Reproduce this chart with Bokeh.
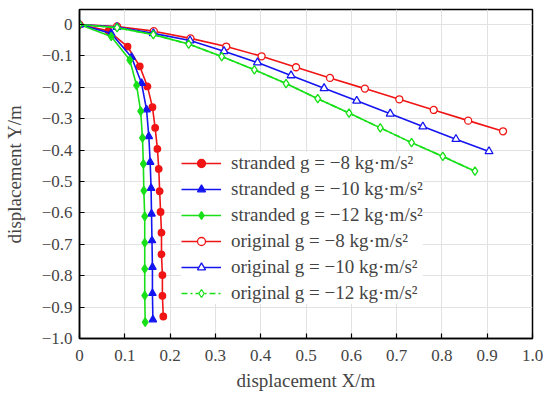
from bokeh.plotting import figure
from bokeh.models import (Range1d, FixedTicker, Legend, LegendItem, ColumnDataSource,
                          CustomJSTickFormatter)
from bokeh.embed import file_html
from bokeh.resources import INLINE

# ---- data ----
s8_x = [0, 0.064, 0.106, 0.133, 0.150, 0.161, 0.167, 0.172, 0.175, 0.177, 0.179, 0.181, 0.181, 0.183, 0.183, 0.185]
s8_y = [0, -0.020, -0.070, -0.133, -0.197, -0.263, -0.329, -0.396, -0.460, -0.531, -0.597, -0.663, -0.732, -0.798, -0.864, -0.930]
s10_x = [0, 0.070, 0.115, 0.137, 0.148, 0.153, 0.156, 0.158, 0.159, 0.160, 0.161, 0.161, 0.162]
s10_y = [0, -0.028, -0.104, -0.187, -0.271, -0.356, -0.438, -0.521, -0.603, -0.688, -0.773, -0.856, -0.940]
s12_x = [0, 0.070, 0.111, 0.126, 0.135, 0.139, 0.141, 0.142, 0.144, 0.144, 0.144, 0.144, 0.145]
s12_y = [0, -0.038, -0.113, -0.194, -0.276, -0.361, -0.444, -0.529, -0.611, -0.695, -0.778, -0.863, -0.948]

o8_x = [0, 0.083, 0.164, 0.245, 0.324, 0.402, 0.478, 0.553, 0.630, 0.706, 0.782, 0.858, 0.935]
o8_y = [0, -0.006, -0.021, -0.044, -0.070, -0.101, -0.136, -0.170, -0.204, -0.238, -0.272, -0.306, -0.340]
o10_x = [0, 0.083, 0.163, 0.244, 0.319, 0.393, 0.467, 0.540, 0.612, 0.686, 0.758, 0.831, 0.904]
o10_y = [0, -0.008, -0.028, -0.051, -0.085, -0.121, -0.162, -0.203, -0.243, -0.284, -0.325, -0.365, -0.404]
o12_x = [0, 0.083, 0.163, 0.241, 0.314, 0.386, 0.456, 0.526, 0.595, 0.664, 0.733, 0.802, 0.873]
o12_y = [0, -0.010, -0.032, -0.062, -0.102, -0.144, -0.188, -0.236, -0.282, -0.329, -0.376, -0.420, -0.467]

x_ticks = [0, 0.1, 0.2, 0.3, 0.4, 0.5, 0.6, 0.7, 0.8, 0.9, 1.0]
x_tick_labels = ["0", "0.1", "0.2", "0.3", "0.4", "0.5", "0.6", "0.7", "0.8", "0.9", "1.0"]
y_ticks = [0, -0.1, -0.2, -0.3, -0.4, -0.5, -0.6, -0.7, -0.8, -0.9, -1.0]
y_tick_labels = ["0", "\u22120.1", "\u22120.2", "\u22120.3", "\u22120.4", "\u22120.5",
                 "\u22120.6", "\u22120.7", "\u22120.8", "\u22120.9", "\u22121.0"]

labels = ["stranded g = \u22128 kg\u00b7m/s\u00b2",
          "stranded g = \u221210 kg\u00b7m/s\u00b2",
          "stranded g = \u221212 kg\u00b7m/s\u00b2",
          "original g = \u22128 kg\u00b7m/s\u00b2",
          "original g = \u221210 kg\u00b7m/s\u00b2",
          "original g = \u221212 kg\u00b7m/s\u00b2"]

RED = "#f01414"
BLUE = "#1414f0"
GREEN = "#18e018"
FONT = "Liberation Serif"

p = figure(frame_width=453, frame_height=329, output_backend="svg", toolbar_location=None,
           title=None,
           x_range=Range1d(0, 1.0), y_range=Range1d(-1.0, 0.048),
           min_border_left=79, min_border_right=11, min_border_top=9, min_border_bottom=60)

p.outline_line_color = "black"
p.outline_line_width = 1.5
p.background_fill_color = "white"
p.border_fill_color = "white"

FMT_CODE = """
let best = -1, bd = 1e9;
for (let i = 0; i < tvals.length; i++) {
  const d = Math.abs(tvals[i] - tick);
  if (d < bd) { bd = d; best = i; }
}
return (best >= 0 && bd < 1e-6) ? tlabels[best] : "";
"""

for ax, tv, tl in ((p.xaxis[0], x_ticks, x_tick_labels), (p.yaxis[0], y_ticks, y_tick_labels)):
    ax.ticker = FixedTicker(ticks=tv)
    ax.formatter = CustomJSTickFormatter(args=dict(tvals=tv, tlabels=tl), code=FMT_CODE)
    ax.major_tick_in = 5
    ax.major_tick_out = 0
    ax.minor_tick_line_color = None
    ax.axis_line_width = 1.5
    ax.major_tick_line_width = 1.2
    ax.major_label_text_font = FONT
    ax.major_label_text_font_size = "17px"
    ax.axis_label_text_font = FONT
    ax.axis_label_text_font_size = "19px"
    ax.axis_label_text_font_style = "normal"

p.xaxis.major_label_standoff = 11
p.yaxis.major_label_standoff = 7
p.xaxis.axis_label = "displacement X/m"
p.yaxis.axis_label = "displacement Y/m"
p.xaxis.axis_label_standoff = 6
p.yaxis.axis_label_standoff = 14

p.xgrid.ticker = FixedTicker(ticks=x_ticks)
p.ygrid.ticker = FixedTicker(ticks=y_ticks)
p.grid.grid_line_color = "#e2e2e2"
p.grid.grid_line_width = 1

items = []

def series(xs, ys, color, marker, size, filled, label, legend_dash=None):
    src = ColumnDataSource(dict(x=xs, y=ys))
    rends = []
    if legend_dash is not None:
        # dash-dot line used as legend sample; hidden under the solid line
        dl = p.line("x", "y", source=src, line_color=color, line_width=1.6, line_dash=legend_dash)
        rends.append(dl)
    ln = p.line("x", "y", source=src, line_color=color, line_width=1.6)
    sc = p.scatter("x", "y", source=src, marker=marker, size=size,
                   line_color=color, line_width=1.3,
                   fill_color=color if filled else "white")
    if legend_dash is None:
        rends.append(ln)
    rends.append(sc)
    items.append(LegendItem(label=label, renderers=rends))

series(s8_x, s8_y, RED, "circle", 6.5, True, labels[0])
series(s10_x, s10_y, BLUE, "triangle", 7.5, True, labels[1])
series(s12_x, s12_y, GREEN, "diamond", 8.5, True, labels[2])
series(o8_x, o8_y, RED, "circle", 7, False, labels[3])
series(o10_x, o10_y, BLUE, "triangle", 8, False, labels[4])
series(o12_x, o12_y, GREEN, "diamond", 8.5, False, labels[5], legend_dash="6 3 2 3")

legend = Legend(items=items, location=(102, 34), orientation="vertical")
legend.label_text_font = FONT
legend.label_text_font_size = "19px"
legend.label_height = 20
legend.glyph_height = 20
legend.glyph_width = 40
legend.label_standoff = 10
legend.spacing = 4
legend.padding = 5
legend.margin = 0
legend.border_line_color = None
legend.background_fill_color = "white"
legend.background_fill_alpha = 1.0
p.add_layout(legend, "center")

open("out.html", "w").write(file_html(p, INLINE))
